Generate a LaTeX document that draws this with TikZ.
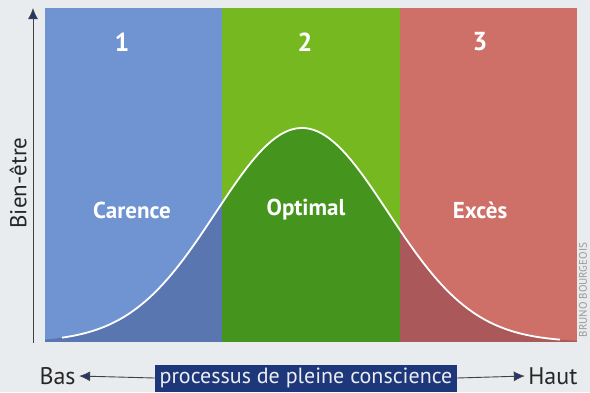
\documentclass[tikz,border=0pt]{standalone}
\usepackage{fontspec}
\setmainfont{PT Sans}
\usetikzlibrary{arrows.meta}
\definecolor{paper}{RGB}{233,236,238}
\definecolor{lowblue}{RGB}{112,148,210}
\definecolor{lowbluedk}{RGB}{90,118,176}
\definecolor{midgreen}{RGB}{118,184,32}
\definecolor{midgreendk}{RGB}{68,148,30}
\definecolor{highred}{RGB}{206,112,104}
\definecolor{highreddk}{RGB}{170,88,90}
\definecolor{navy}{RGB}{30,54,122}
\tikzstyle{arr}  = [draw=black!75, line width=0.9pt, -{Latex[length=11pt, width=10pt, fill=navy]}]
\tikzstyle{num}  = [text=white, font=\bfseries\fontsize{26}{28}\selectfont]
\tikzstyle{zone} = [text=white, font=\bfseries\fontsize{23}{25}\selectfont]
\tikzstyle{axis} = [text=black!85, font=\fontsize{24}{26}\selectfont]

\begin{document}
\begin{tikzpicture}[x=1pt, y=-1pt]

\useasboundingbox (0,0) rectangle (590,392);
\fill [paper] (0,0) rectangle (590,392);

% zones
\fill [lowblue]  ( 45,8) rectangle (222,342);
\fill [midgreen] (222,8) rectangle (400,342);
\fill [highred]  (400,8) rectangle (577,342);

% area under the curve
\begin{scope}
  \clip (45,342) -- plot [domain=45:577, samples=120] (\x, {342-214*exp(-0.5*((\x-302)/86)^2)}) -- (577,342) -- cycle;
  \fill [lowbluedk]  ( 45,8) rectangle (222,342);
  \fill [midgreendk] (222,8) rectangle (400,342);
  \fill [highreddk]  (400,8) rectangle (577,342);
\end{scope}
\draw [white, line width=1.8pt] plot [domain=62:560, samples=120] (\x, {342-214*exp(-0.5*((\x-302)/86)^2)});

% nodes
\node [num]                         at (122, 42) (n1)    {1};
\node [num]                         at (305, 42) (n2)    {2};
\node [num]                         at (480, 42) (n3)    {3};
\node [zone]                        at (132,210) (low)   {Carence};
\node [zone]                        at (306,210) (mid)   {Optimal};
\node [zone]                        at (480,210) (high)  {Excès};
\node [axis, rotate=90, font=\fontsize{23}{25}\selectfont]
                                    at ( 18,183) (wb)    {Bien-être};
\node [axis, anchor=west]           at ( 36,376) (bas)   {Bas};
\node [axis, anchor=east]           at (581,376) (haut)  {Haut};
\node [axis, fill=navy, text=paper!90, font=\fontsize{22}{24}\selectfont, minimum width=302pt, minimum height=27pt, inner sep=0pt]
                                    at (306,378) (proc)  {processus de pleine conscience};
\node [text=black!40, rotate=90, inner sep=1pt, font=\fontsize{11}{12}\selectfont]
                                    at (583,290) (credit) {BRUNO BOURGEOIS};
\coordinate                         (y0) at (33,343);
\coordinate                         (y1) at (33,8);

% arrows
\draw [arr] (y0)         -- (y1);
\draw [arr] (proc.west)  -- (bas.east);
\draw [arr] (proc.east)  -- (haut.west);

\end{tikzpicture}
\end{document}
